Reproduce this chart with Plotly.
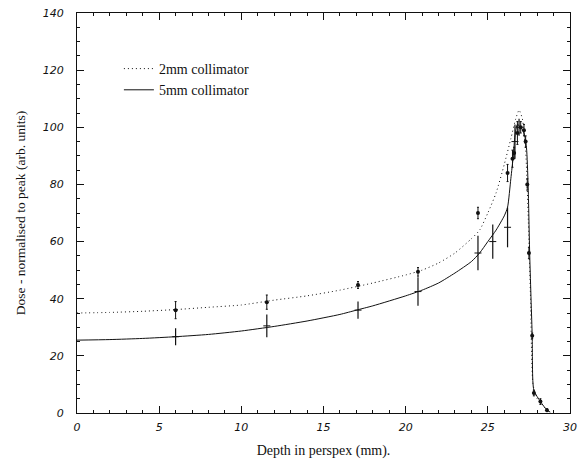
import plotly.graph_objects as go

# ---- data ----
# fitted curves
fit2_x = [0, 2, 4, 6, 8, 10, 12, 14, 16, 18, 20, 21, 22, 23, 24, 24.5, 25, 25.5, 26, 26.4, 26.7, 26.9, 27.1, 27.3, 27.45, 27.6, 27.75, 28.0, 28.3, 28.6, 28.8]
fit2_y = [35, 35.2, 35.6, 36.2, 37, 37.8, 39.5, 41, 43, 45.5, 48.3, 50, 52.5, 56, 61, 64, 70, 77, 87, 96, 103, 106, 103, 92, 70, 40, 10, 5, 3, 1, 0.3]

fit5_x = [0, 2, 4, 6, 8, 10, 12, 14, 16, 17, 18, 20, 21, 22, 23, 24, 24.5, 25, 25.5, 26.0, 26.2, 26.4, 26.55, 26.65, 26.8, 27.0, 27.2, 27.35, 27.45, 27.55, 27.7, 27.8, 28.2, 28.6, 28.8]
fit5_y = [25.5, 25.7, 26.1, 26.7, 27.5, 28.7, 30.3, 32.2, 34.5, 36, 37.5, 41, 43, 45.5, 49, 53, 56, 60, 64, 69, 72, 82, 90, 97, 101, 100, 98, 93, 80, 55, 27, 8, 4, 1, 0.3]

# measured points
pts2_x = [6.0, 11.55, 17.1, 20.75, 24.4, 26.2, 26.5, 26.6, 26.8, 27.0, 27.2, 27.3, 27.4, 27.5, 27.7, 27.8, 28.2, 28.6]
pts2_y = [36, 38.8, 44.8, 49.4, 70, 84, 89, 91, 98, 100, 99, 95, 80, 56, 27, 7, 4, 1]
pts2_e = [3, 2.5, 1.2, 1.5, 2, 3, 3, 2, 4, 2, 2, 2, 2, 2, 1, 1, 1, 0.5]

pts5_x = [6.0, 11.55, 17.1, 20.75, 24.4, 25.3, 26.2, 26.65, 26.9]
pts5_y = [26.7, 30.5, 36, 42.5, 56, 60, 65, 95, 100]
pts5_e = [3, 4, 3, 5, 6, 6, 7, 6, 3]

x_ticks = [0, 5, 10, 15, 20, 25, 30]
y_ticks = [0, 20, 40, 60, 80, 100, 120, 140]

ink = "#111111"
serif = "Liberation Serif"

fig = go.Figure()
fig.add_trace(go.Scatter(x=fit2_x, y=fit2_y, mode="lines", name="2mm collimator",
                         line=dict(color=ink, width=1, dash="1px,3px", shape="spline", smoothing=0.6)))
fig.add_trace(go.Scatter(x=fit5_x, y=fit5_y, mode="lines", name="5mm collimator",
                         line=dict(color=ink, width=1, shape="spline", smoothing=0.6)))
fig.add_trace(go.Scatter(x=pts2_x, y=pts2_y, mode="markers", showlegend=False,
                         marker=dict(symbol="circle", size=4, color=ink),
                         error_y=dict(type="data", array=pts2_e, color=ink, thickness=1, width=1)))
fig.add_trace(go.Scatter(x=pts5_x, y=pts5_y, mode="markers", showlegend=False,
                         marker=dict(symbol="line-ew", size=5, color=ink, line=dict(color=ink, width=1)),
                         error_y=dict(type="data", array=pts5_e, color=ink, thickness=1.2, width=0)))

axis_common = dict(showline=True, linecolor=ink, linewidth=1, mirror="ticks",
                   ticks="inside", tickcolor=ink, ticklen=7, showgrid=False, zeroline=False,
                   automargin=False,
                   tickfont=dict(family="DejaVu Sans", size=11, color=ink, style="italic"))

fig.update_xaxes(range=[0, 30], tickvals=x_ticks, ticktext=[str(v) for v in x_ticks],
                 minor=dict(dtick=1, ticks="inside", ticklen=3, tickcolor=ink),
                 ticklabelstandoff=4,
                 title=dict(text="Depth in perspex (mm).", font=dict(family=serif, size=14, color=ink), standoff=11),
                 **axis_common)
fig.update_yaxes(range=[0, 140], tickvals=y_ticks, ticktext=[str(v) for v in y_ticks],
                 minor=dict(dtick=5, ticks="inside", ticklen=3, tickcolor=ink),
                 ticklabelstandoff=10,
                 title=dict(text="Dose - normalised to peak (arb. units)", font=dict(family=serif, size=13.5, color=ink), standoff=14),
                 **axis_common)

fig.update_layout(width=585, height=460, margin=dict(l=77, r=15, t=13, b=47),
                  paper_bgcolor="white", plot_bgcolor="white",
                  legend=dict(x=0.085, y=0.9, xanchor="left", yanchor="top",
                              bgcolor="rgba(0,0,0,0)", font=dict(family=serif, size=14, color=ink),
                              itemwidth=30, tracegroupgap=0))

fig.write_html("out.html")
